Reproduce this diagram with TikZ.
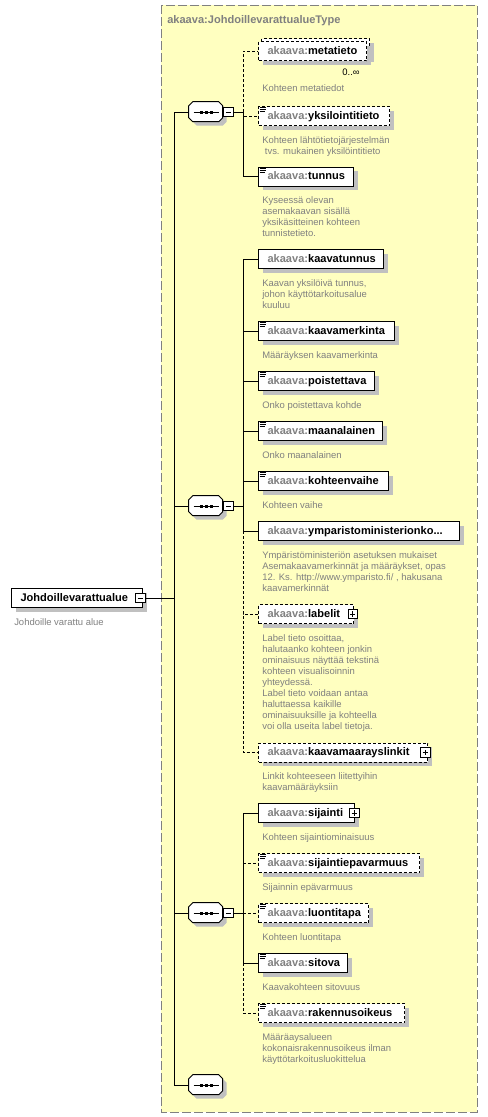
\documentclass[tikz,border=0pt]{standalone}
\usepackage{fontspec}
\setmainfont{Liberation Sans}

\definecolor{bgyellow}{RGB}{255,255,192}
\definecolor{framegray}{RGB}{128,128,128}
\definecolor{textgray}{RGB}{128,128,128}
\definecolor{shadowgray}{RGB}{192,192,192}

\newcommand{\elemfont}{\fontsize{8.3}{9.9}\selectfont\bfseries}
\newcommand{\descfont}{\fontsize{7.1}{8.25}\selectfont}
\newcommand{\ak}[1]{\mbox{\textcolor{textgray}{akaava:}#1}}

\tikzset{
  conn/.style={line width=0.75pt},
  optconn/.style={conn, dash pattern=on 2.25pt off 1.5pt},
  shadowed/.style={preaction={draw=none, fill=shadowgray, transform canvas={xshift=3pt, yshift=-3pt}}},
  elem/.style={draw, fill=white, line width=0.75pt, shadowed, anchor=west, font=\elemfont,
    text width=#1, align=left, minimum height=14.25pt, inner xsep=6.75pt, inner ysep=0pt,
    text height=6pt, text depth=1.5pt},
  optelem/.style={elem=#1, dash pattern=on 2.25pt off 1.5pt},
  desc/.style={anchor=north west, inner sep=0pt, align=left, font=\descfont, text=textgray},
  seqbox/.style={rectangle, minimum width=25.5pt, minimum height=15pt, inner sep=0pt},
  btn/.style={draw, fill=white, line width=0.75pt, minimum size=7pt, inner sep=0pt},
  minusbox/.style={btn, path picture={
    \draw[line width=0.75pt] ([xshift=1.5pt]path picture bounding box.west) -- ([xshift=-1.5pt]path picture bounding box.east);}},
  plusbox/.style={btn, path picture={
    \draw[line width=0.75pt] ([xshift=1.5pt]path picture bounding box.west) -- ([xshift=-1.5pt]path picture bounding box.east);
    \draw[line width=0.75pt] ([yshift=-1.5pt]path picture bounding box.north) -- ([yshift=1.5pt]path picture bounding box.south);}},
}

\begin{document}
\begin{tikzpicture}[x=0.75pt, y=-0.75pt]
  \useasboundingbox (0,0) rectangle (488,1117);

  % type frame
  \draw[fill=bgyellow, draw=framegray, line width=0.75pt, dash pattern=on 6.75pt off 2.25pt] (161,5) rectangle (477,1112);
  \node[anchor=base west, inner sep=0pt, font=\elemfont, text=textgray] (title) at (167,23) {akaava:JohdoillevarattualueType};

  % root element
  \node[elem=84.75pt] (root) at (11,598) {Johdoillevarattualue};
  \node[minusbox] (rootm) at (140.5,598) {};
  \node[desc] (root-desc) at ([shift={(3,9.3)}]root.south west) {\strut Johdoille varattu alue};

  % sequences
  \node[seqbox] (seq1) at (206,112) {};
  \node[seqbox] (seq2) at (206,506) {};
  \node[seqbox] (seq3) at (206,913) {};
  \node[seqbox] (seq4) at (206,1085) {};
  \foreach \s in {seq1,seq2,seq3,seq4} {
    \filldraw[conn, fill=white, shadowed] (\s.north west) ++(4,0) -- ++(26,0) -- ++(4,4) -- ++(0,12)
      -- ++(-4,4) -- ++(-26,0) -- ++(-4,-4) -- ++(0,-12) -- cycle;
    \draw[conn] (\s.center) ++(-12.5,0) -- ++(25,0);
    \foreach \dx in {-5,0,5}
      \fill (\s.center) ++(\dx,0) ++(-1.5,-1.5) rectangle ++(3,3);
  }
  \node[minusbox] (seq1m) at (228.5,112) {};
  \node[minusbox] (seq2m) at (228.5,506) {};
  \node[minusbox] (seq3m) at (228.5,913) {};

  % first sequence
  \node[optelem=67.5pt] (metastack) at (261,48) {};
  \node[optelem=67.5pt] (metatieto) at (258,51) {\ak{metatieto}};
  \node[inner sep=0pt, font=\descfont] (metamult) at (351,72) {0..∞};
  \node[desc] (metatieto-desc) at (262,83.3) {\strut Kohteen metatiedot};

  \node[optelem=84.75pt] (yksilointitieto) at (258,116) {\ak{yksilointitieto}};
  \node[desc] (yksilointitieto-desc) at ([shift={(4,9.3)}]yksilointitieto.south west) {\strut Kohteen lähtötietojärjestelmän\\\ tvs. mukainen yksilöintitieto};

  \node[elem=57.75pt] (tunnus) at (258,176.5) {\ak{tunnus}};
  \node[desc] (tunnus-desc) at ([shift={(4,9.3)}]tunnus.south west) {\strut Kyseessä olevan\\asemakaavan sisällä\\yksikäsitteinen kohteen\\tunnistetieto.};

  % second sequence
  \node[elem=80.25pt] (kaavatunnus) at (258,259) {\ak{kaavatunnus}};
  \node[desc] (kaavatunnus-desc) at ([shift={(4,9.3)}]kaavatunnus.south west) {\strut Kaavan yksilöivä tunnus,\\johon käyttötarkoitusalue\\kuuluu};

  \node[elem=88.5pt] (kaavamerkinta) at (258,331) {\ak{kaavamerkinta}};
  \node[desc] (kaavamerkinta-desc) at ([shift={(4,9.3)}]kaavamerkinta.south west) {\strut Määräyksen kaavamerkinta};

  \node[elem=73.5pt] (poistettava) at (258,381) {\ak{poistettava}};
  \node[desc] (poistettava-desc) at ([shift={(4,9.3)}]poistettava.south west) {\strut Onko poistettava kohde};

  \node[elem=79.5pt] (maanalainen) at (258,431) {\ak{maanalainen}};
  \node[desc] (maanalainen-desc) at ([shift={(4,9.3)}]maanalainen.south west) {\strut Onko maanalainen};

  \node[elem=84pt] (kohteenvaihe) at (258,481) {\ak{kohteenvaihe}};
  \node[desc] (kohteenvaihe-desc) at ([shift={(4,9.3)}]kohteenvaihe.south west) {\strut Kohteen vaihe};

  \node[elem=137.25pt] (ymparisto) at (258,531) {\ak{ymparistoministerionko...}};
  \node[desc] (ymparisto-desc) at ([shift={(4,9.3)}]ymparisto.south west) {\strut Ympäristöministeriön asetuksen mukaiset\\Asemakaavamerkinnät ja määräykset, opas\\12. Ks. http://www.ymparisto.fi/ , hakusana\\kaavamerkinnät};

  \node[optelem=57.75pt] (labelit) at (258,614) {\ak{labelit}};
  \node[plusbox] (labelitp) at ([xshift=-1pt]labelit.east) {};
  \node[desc] (labelit-desc) at ([shift={(4,9.3)}]labelit.south west) {\strut Label tieto osoittaa,\\halutaanko kohteen jonkin\\ominaisuus näyttää tekstinä\\kohteen visualisoinnin\\yhteydessä.\\Label tieto voidaan antaa\\haluttaessa kaikille\\ominaisuuksille ja kohteella\\voi olla useita label tietoja.};

  \node[optelem=113.25pt] (linkit) at (258,752.5) {\ak{kaavamaarayslinkit}};
  \node[plusbox] (linkitp) at ([xshift=-2pt]linkit.east) {};
  \node[desc] (linkit-desc) at ([shift={(4,9.3)}]linkit.south west) {\strut Linkit kohteeseen liitettyihin\\kaavamääräyksiin};

  % third sequence
  \node[elem=58.5pt] (sijainti) at (258,813) {\ak{sijainti}};
  \node[plusbox] (sijaintip) at ([xshift=-0.5pt]sijainti.east) {};
  \node[desc] (sijainti-desc) at ([shift={(4,9.3)}]sijainti.south west) {\strut Kohteen sijaintiominaisuus};

  \node[optelem=107.25pt] (epavarmuus) at (258,863) {\ak{sijaintiepavarmuus}};
  \node[desc] (epavarmuus-desc) at ([shift={(4,9.3)}]epavarmuus.south west) {\strut Sijainnin epävarmuus};

  \node[optelem=69pt] (luontitapa) at (258,913) {\ak{luontitapa}};
  \node[desc] (luontitapa-desc) at ([shift={(4,9.3)}]luontitapa.south west) {\strut Kohteen luontitapa};

  \node[elem=53.25pt] (sitova) at (258,963) {\ak{sitova}};
  \node[desc] (sitova-desc) at ([shift={(4,9.3)}]sitova.south west) {\strut Kaavakohteen sitovuus};

  \node[optelem=96pt] (rakennusoikeus) at (258,1013) {\ak{rakennusoikeus}};
  \node[desc] (rakennusoikeus-desc) at ([shift={(4,9.3)}]rakennusoikeus.south west) {\strut Määräaysalueen\\kokonaisrakennusoikeus ilman\\käyttötarkoitusluokittelua};

  % simple content marks
  \foreach \n in {yksilointitieto,tunnus,kaavamerkinta,poistettava,maanalainen,kohteenvaihe,epavarmuus,luontitapa,sitova,rakennusoikeus}
    \draw[line width=0.6pt] (\n.north west) ++(1.5,1.5) -- ++(6,0) ++(-6,2) -- ++(6,0) ++(-6,2) -- ++(5,0);

  % connectors
  \coordinate (trunk) at (174,598);
  \draw[conn] (rootm) -- (trunk);
  \foreach \s in {seq1,seq2,seq3,seq4}
    \draw[conn] (trunk) |- (\s);

  \coordinate (br1) at (243,112);
  \draw[conn] (seq1m) -- (br1);
  \foreach \n in {metatieto,yksilointitieto}
    \draw[optconn] (br1) |- (\n);
  \draw[conn] (br1) |- (tunnus);

  \coordinate (br2) at (243,506);
  \draw[conn] (seq2m) -- (br2);
  \foreach \n in {labelit,linkit}
    \draw[optconn] (br2) |- (\n);
  \foreach \n in {kaavatunnus,kaavamerkinta,poistettava,maanalainen,kohteenvaihe,ymparisto}
    \draw[conn] (br2) |- (\n);

  \coordinate (br3) at (243,913);
  \draw[conn] (seq3m) -- (br3);
  \foreach \n in {epavarmuus,luontitapa,rakennusoikeus}
    \draw[optconn] (br3) |- (\n);
  \foreach \n in {sijainti,sitova}
    \draw[conn] (br3) |- (\n);
\end{tikzpicture}
\end{document}
